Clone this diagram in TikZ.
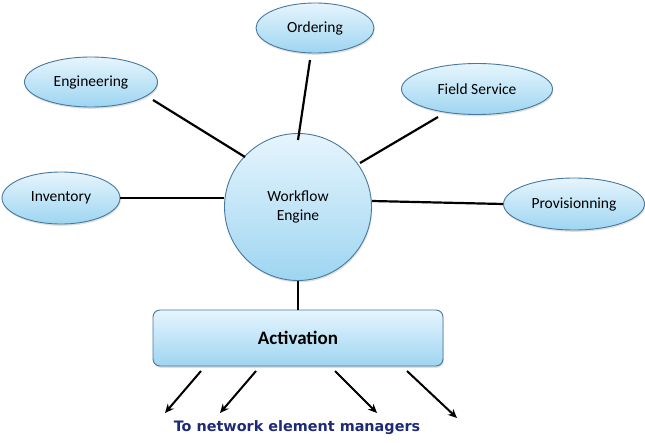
\documentclass[tikz,border=0pt]{standalone}
\usepackage{fontspec}
\setmainfont{Carlito}
\newfontfamily\verdb{DejaVu Sans}
\usetikzlibrary{shapes.geometric,arrows.meta,shadows}
\definecolor{topblue}{RGB}{230,245,253}
\definecolor{botblue}{RGB}{158,213,241}
\definecolor{edgeblue}{RGB}{70,120,160}
\definecolor{navy}{RGB}{30,42,120}
\tikzset{
  bubble/.style={ellipse, draw=edgeblue, line width=0.9pt, top color=topblue, bottom color=botblue,
    inner sep=0pt, font=\fontsize{15.5}{18.5}\selectfont, text=black,
    drop shadow={opacity=0.25, shadow xshift=0.8pt, shadow yshift=-1.8pt}},
  link/.style={line width=2.2pt, black},
  outarrow/.style={line width=2pt, black, -{Stealth[length=9pt,width=8pt]}}
}
\begin{document}
\begin{tikzpicture}[x=1pt,y=-1pt]
\useasboundingbox (0,0) rectangle (645,442);
\node[bubble, minimum width=118pt, minimum height=50pt] (ord) at (315,28) {Ordering};
\node[bubble, minimum width=133pt, minimum height=50pt] (eng) at (91,82) {Engineering};
\node[bubble, minimum width=151pt, minimum height=51pt] (fs) at (477,89) {Field Service};
\node[bubble, minimum width=118pt, minimum height=52pt] (inv) at (61,198) {Inventory};
\node[bubble, minimum width=141pt, minimum height=52pt] (prov) at (574,204) {Provisionning};
\node[bubble, circle, minimum size=147pt, align=center] (wf) at (298,207) {Workflow\\Engine};
\node[draw=edgeblue, line width=0.9pt, rounded corners=7pt, top color=topblue, bottom color=botblue,
  minimum width=290pt, minimum height=56pt, font=\fontsize{19}{21}\selectfont\bfseries, text=black,
  drop shadow={opacity=0.25, shadow xshift=0.8pt, shadow yshift=-1.8pt}] (act) at (298,338) {Activation};
\node[font=\verdb\bfseries\fontsize{14.4}{16}\selectfont, text=navy] (tnem) at (297,428) {To network element managers};
\coordinate (a1s) at (201,371); \coordinate (a1e) at (165,413);
\coordinate (a2s) at (256,371); \coordinate (a2e) at (220,413);
\coordinate (a3s) at (335,371); \coordinate (a3e) at (377,413);
\coordinate (a4s) at (407,371); \coordinate (a4e) at (457,418);
\draw[link] (310,60) -- (298,140);
\draw[link] (153,100) -- (245,157);
\draw[link] (438,117) -- (360,163);
\draw[link] (inv.east) -- (wf.west |- inv.east);
\draw[link] (wf.east) ++(0,-6) -- (prov.west);
\draw[link] (wf.south) -- (act.north);
\draw[outarrow] (a1s) -- (a1e);
\draw[outarrow] (a2s) -- (a2e);
\draw[outarrow] (a3s) -- (a3e);
\draw[outarrow] (a4s) -- (a4e);
\end{tikzpicture}
\end{document}
